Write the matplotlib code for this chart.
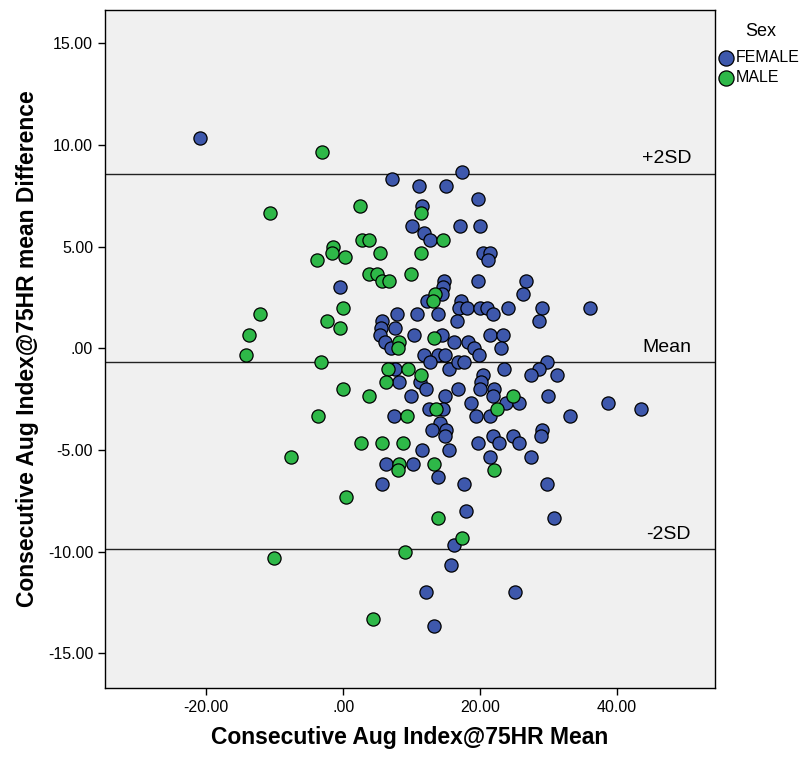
import numpy as np
import matplotlib
matplotlib.use("Agg")
import matplotlib.pyplot as plt
from matplotlib.ticker import FuncFormatter

plt.rcParams['font.family'] = ['Liberation Sans', 'DejaVu Sans']

# Bland-Altman style data
female_mean = [-20.9, 7.15, 11.0, 15.0, 17.33, 11.53, 19.66, 10.0, 17.0, 20.0,
               11.85, 12.66, 20.39, 21.42, 21.17, -0.53, 14.66, 19.66, 26.72, 26.31,
               14.51, 14.36, 12.18, 17.18, 16.96, 18.06, 20.0, 21.05, 21.85, 24.04,
               29.04, 36.01, 28.64, 7.84, 10.8, 13.82, 16.67, 5.65, 5.5, 5.36,
               7.55, 10.32, 14.36, 6.13, 6.96, 16.19, 18.18, 19.08, 21.37, 23.31,
               23.02, 19.88, 11.82, 13.78, 14.85, 12.66, 15.5, 16.7, 17.69, 7.5,
               20.35, 20.18, 20.0, 23.49, 29.69, 28.57, 27.36, 31.17, 8.18, 11.2,
               12.03, 9.84, 14.8, 16.82, 22.03, 21.82, 23.71, 25.69, 18.64, 19.33,
               21.37, 29.84, 33.09, 38.64, 43.56, 12.55, 14.55, 7.36, 14.15, 13.02,
               15.04, 14.85, 11.52, 15.47, 21.85, 22.7, 24.82, 25.69, 29.01, 28.83,
               19.66, 6.19, 10.18, 13.82, 5.65, 21.37, 27.36, 17.66, 29.69, 17.99,
               30.83, 16.16, 15.68, 12.03, 25.02, 13.2]
female_diff = [10.33, 8.33, 8.0, 8.0, 8.67, 7.0, 7.33, 6.0, 6.0, 6.0,
               5.67, 5.33, 4.67, 4.67, 4.33, 3.0, 3.33, 3.33, 3.33, 2.67,
               3.0, 2.67, 2.33, 2.33, 2.0, 2.0, 2.0, 2.0, 1.67, 2.0,
               2.0, 2.0, 1.33, 1.67, 1.67, 1.67, 1.33, 1.33, 1.0, 0.67,
               1.0, 0.67, 0.67, 0.33, 0.0, 0.33, 0.33, 0.0, 0.67, 0.67,
               0.0, -0.33, -0.33, -0.33, -0.33, -0.67, -1.0, -0.67, -0.67, -1.0,
               -1.33, -1.67, -2.0, -1.0, -0.67, -1.0, -1.33, -1.33, -1.67, -1.67,
               -2.0, -2.33, -2.33, -2.0, -2.0, -2.33, -2.67, -2.67, -2.67, -3.33,
               -3.33, -2.33, -3.33, -2.67, -3.0, -3.0, -3.0, -3.33, -3.67, -4.0,
               -4.0, -4.33, -5.0, -5.0, -4.33, -4.67, -4.33, -4.67, -4.0, -4.33,
               -4.67, -5.67, -5.67, -6.33, -6.67, -5.33, -5.33, -6.67, -6.67, -8.0,
               -8.33, -9.67, -10.67, -12.0, -12.0, -13.67]

male_mean = [-3.15, -10.7, 2.51, 11.34, 2.69, 3.72, 14.63, -1.5, -1.69, 0.25,
             -3.84, 5.36, 11.34, 3.82, 4.89, 5.65, 6.72, 9.88, 13.39, 13.17,
             0.0, -12.16, -2.38, -0.41, -13.72, -14.16, -3.3, 13.24, 8.18, 8.03,
             6.53, 9.49, 11.34, 6.19, 0.0, 3.8, 13.53, 9.34, -3.69, 2.66,
             5.65, 8.67, -7.68, 8.18, 8.03, 13.2, 0.35, 13.78, 17.33, 9.04,
             -10.16, 4.38, 24.82, 22.48, 22.0]
male_diff = [9.67, 6.67, 7.0, 6.67, 5.33, 5.33, 5.33, 5.0, 4.67, 4.5,
             4.33, 4.67, 4.67, 3.67, 3.67, 3.33, 3.33, 3.67, 2.67, 2.33,
             2.0, 1.67, 1.33, 1.0, 0.67, -0.33, -0.67, 0.5, 0.33, 0.0,
             -1.0, -1.0, -1.33, -1.67, -2.0, -2.33, -3.0, -3.33, -3.33, -4.67,
             -4.67, -4.67, -5.33, -5.67, -6.0, -5.67, -7.33, -8.33, -9.33, -10.0,
             -10.33, -13.33, -2.33, -3.0, -6.0]

ref_values = [8.6, -0.65, -9.85]
ref_labels = ["+2SD", "Mean", "-2SD"]

fig = plt.figure(figsize=(8.07, 7.62), dpi=100)
ax = fig.add_axes([105/807, 1 - 688/762, 610/807, 678/762])
ax.set_facecolor("#F0F0F0")

ax.scatter(female_mean, female_diff, s=90, c="#3E58AC", edgecolors="black",
           linewidths=0.9, label="FEMALE", zorder=3)
ax.scatter(male_mean, male_diff, s=90, c="#2EB848", edgecolors="black",
           linewidths=0.9, label="MALE", zorder=3)

for val, lab in zip(ref_values, ref_labels):
    ax.axhline(val, color="#222222", lw=1.0, zorder=2)
    ax.text(50.8, val + 0.3, lab, ha="right", va="bottom", fontsize=14)

ax.set_xlim(-34.8, 54.3)
ax.set_ylim(-16.7, 16.64)
ax.set_xticks([-20, 0, 20, 40])
ax.set_yticks([-15, -10, -5, 0, 5, 10, 15])

def spss_fmt(v, pos):
    s = "%.2f" % v
    if s.startswith("0."):
        s = s[1:]
    if s == "-0.00":
        s = ".00"
    return s

ax.xaxis.set_major_formatter(FuncFormatter(spss_fmt))
ax.yaxis.set_major_formatter(FuncFormatter(spss_fmt))
ax.tick_params(direction="out", length=5, width=1, labelsize=11.5, colors="black")
for sp in ax.spines.values():
    sp.set_linewidth(1.0)
    sp.set_color("black")

ax.set_xlabel("Consecutive Aug Index@75HR Mean", fontsize=16.5, fontweight="bold", labelpad=8)
ax.set_ylabel("Consecutive Aug Index@75HR mean Difference", fontsize=16.5, fontweight="bold", labelpad=6)

# legend: title drawn separately, entries below it
fig.text(761/807, 1 - 31/762, "Sex", ha="center", va="center", fontsize=13)
ax.legend(loc="upper left", bbox_to_anchor=(718/807, 1 - 50/762),
          bbox_transform=fig.transFigure, frameon=False,
          fontsize=11.5, handletextpad=0.1, handlelength=1.0,
          labelspacing=0.3, borderpad=0.0, borderaxespad=0.0,
          markerscale=1.15)

fig.savefig("out.png", dpi=100)
